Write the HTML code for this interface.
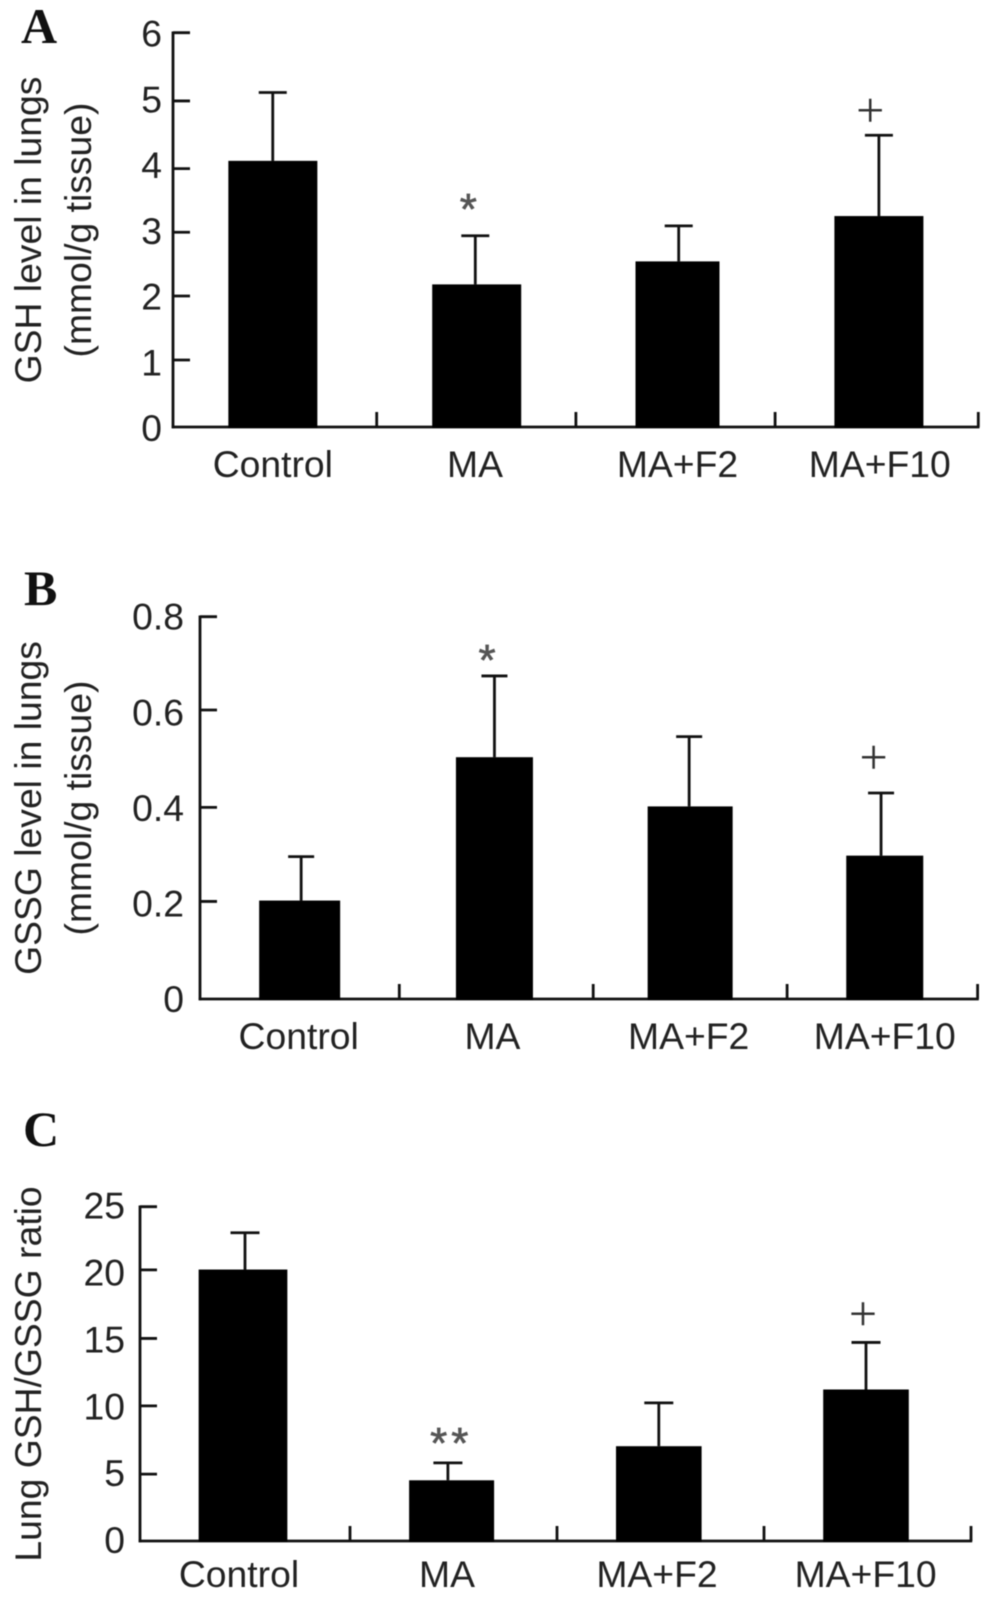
<!DOCTYPE html>
<html lang="en">
<head>
<meta charset="utf-8">
<title>Lung GSH and GSSG levels</title>
<style>
html,body{margin:0;padding:0;background:#fff;width:991px;height:1600px;overflow:hidden}
svg{display:block;filter:blur(0.45px)}
text{font-family:"Liberation Sans",sans-serif;font-size:37.3px;fill:#222}
.letter{font-family:"Liberation Serif",serif;font-size:50px;font-weight:bold;fill:#111}
</style>
</head>
<body>
<svg id="figure" xmlns="http://www.w3.org/2000/svg" width="991" height="1600" viewBox="0 0 991 1600">
  <rect x="0" y="0" width="991" height="1600" fill="#fff"/>
  <text class="letter" x="21" y="43">A</text>
  <text class="letter" x="24" y="605">B</text>
  <text class="letter" x="23" y="1146">C</text>
  <text text-anchor="middle" transform="translate(41 230) rotate(-90)">GSH level in lungs</text>
  <text text-anchor="middle" transform="translate(91 230) rotate(-90)">(mmol/g tissue)</text>
  <text text-anchor="middle" transform="translate(41 808) rotate(-90)">GSSG level in lungs</text>
  <text text-anchor="middle" transform="translate(91 808) rotate(-90)">(mmol/g tissue)</text>
  <text text-anchor="middle" transform="translate(41 1374) rotate(-90)">Lung GSH/GSSG ratio</text>
</svg>
<script>
// Chart data
const categories = ["Control", "MA", "MA+F2", "MA+F10"];

const gshMeans = [4.05, 2.17, 2.52, 3.21];
const gshErrors = [1.04, 0.74, 0.54, 1.23];
const gshMarks = ["", "*", "", "+"];
const gshTicks = [0, 1, 2, 3, 4, 5, 6];
const gshTickLabels = ["0", "1", "2", "3", "4", "5", "6"];

const gssgMeans = [0.206, 0.506, 0.403, 0.300];
const gssgErrors = [0.092, 0.170, 0.146, 0.131];
const gssgMarks = ["", "*", "", "+"];
const gssgTicks = [0, 0.2, 0.4, 0.6, 0.8];
const gssgTickLabels = ["0", "0.2", "0.4", "0.6", "0.8"];

const ratioMeans = [20.3, 4.54, 7.09, 11.33];
const ratioErrors = [2.75, 1.30, 3.24, 3.52];
const ratioMarks = ["", "**", "", "+"];
const ratioTicks = [0, 5, 10, 15, 20, 25];
const ratioTickLabels = ["0", "5", "10", "15", "20", "25"];

// Panel geometry (separate from the data)
const panelA = {id: "a", left: 173, right: 978.3, base: 427, top: 32.7, max: 6, first: 203.7, step: 199.2,
  barW: [89, 89, 84, 89], labelY: 477, labelRight: 162, tickDy: 14, starGap: 35, plusGap: 24, capW: 28,
  starDx: -5, plusDx: -8.7,
  shift: [-2, 0.4, 2, 2.2], errShift: [-0.1, -1.4, 1.2, 0], labelShift: [0, -1.7, 0, 0.9],
  tickNudge: [0, -1.3, 0.4, 2.4, 4.5, 2.5, 0],
  means: gshMeans, errors: gshErrors, marks: gshMarks, ticks: gshTicks, tickLabels: gshTickLabels};
const panelB = {id: "b", left: 200, right: 977.6, base: 999, top: 616.7, max: 0.8, first: 199.3, step: 193.9,
  barW: [81, 77, 85, 77], labelY: 1049, labelRight: 184, tickDy: 13, starGap: 24, plusGap: 35, capW: 26,
  starDx: -5.4, plusDx: -7.4,
  shift: [0, -1.8, 0, 2.4], errShift: [1.5, 0, -1, -3.7], labelShift: [-1, -2, -1.5, 0],
  tickNudge: [0, -2, -0.5, -2.3, 0],
  means: gssgMeans, errors: gssgErrors, marks: gssgMarks, ticks: gssgTicks, tickLabels: gssgTickLabels};
const panelC = {id: "c", left: 140, right: 971, base: 1541, top: 1206.7, max: 25, first: 210, step: 207,
  barW: [88.7, 85, 85.6, 85.6], labelY: 1587, labelRight: 125, tickDy: 12, starGap: 28, plusGap: 28, capW: 29,
  starDx: 3.4, plusDx: -3,
  shift: [-2, -1.9, -1.7, -1.5], errShift: [2, -3.7, 0, 0], labelShift: [-4, -4.6, -1.8, -0.4],
  tickNudge: [0, 0, -1.4, -2, -3.7, 0],
  means: ratioMeans, errors: ratioErrors, marks: ratioMarks, ticks: ratioTicks, tickLabels: ratioTickLabels};

const NS = "http://www.w3.org/2000/svg";
const root = document.getElementById("figure");

function make(tag, attrs, parent) {
  const el = document.createElementNS(NS, tag);
  for (const k in attrs) el.setAttribute(k, attrs[k]);
  parent.appendChild(el);
  return el;
}

function drawPanel(p) {
  const yScale = v => p.base - (v / p.max) * (p.base - p.top);
  const xEdge = i => i === 0 ? p.left : (i === categories.length ? p.right : p.left + p.first + (i - 1) * p.step);
  const xCenter = i => (xEdge(i) + xEdge(i + 1)) / 2 + p.shift[i];

  const g = make("g", {}, root);
  
  

  const line = {stroke: "#111", "stroke-width": 2.8, fill: "none"};

  // y axis
  const yAxis = make("line", Object.assign({x1: p.left, x2: p.left, y1: yScale(p.max) - 1.2, y2: p.base + 1.2}, line), g);
  
  

  p.ticks.forEach((t, i) => {
    const y = yScale(t);
    if (t !== 0) {
      const ty = y + p.tickNudge[i];
      const tick = make("line", Object.assign({x1: p.left, x2: p.left + 17, y1: ty, y2: ty}, line), g);
      
      
    }
    const lab = make("text", {x: p.labelRight, y: y + p.tickDy, "text-anchor": "end"}, g);
    lab.textContent = p.tickLabels[i];
    
    
  });

  // x axis
  const xAxis = make("line", Object.assign({x1: p.left - 1.2, x2: p.right + 1.2, y1: p.base, y2: p.base}, line), g);
  
  

  for (let i = 1; i <= categories.length; i++) {
    const tick = make("line", Object.assign({x1: xEdge(i), x2: xEdge(i), y1: p.base - 15, y2: p.base}, line), g);
    
    
  }

  categories.forEach((c, i) => {
    const cx = xCenter(i);
    const ex = cx + p.errShift[i];
    const w = p.barW[i];
    const topY = yScale(p.means[i]);
    const errY = yScale(p.means[i] + p.errors[i]);

    const stem = make("line", Object.assign({x1: ex, x2: ex, y1: errY, y2: topY}, line), g);
    
    

    const cap = make("line", Object.assign({x1: ex - p.capW / 2, x2: ex + p.capW / 2, y1: errY, y2: errY}, line), g);
    
    

    const bar = make("rect", {x: cx - w / 2, y: topY, width: w, height: p.base - topY + 1, fill: "#000"}, g);
    
    

    const lab = make("text", {x: cx + p.labelShift[i], y: p.labelY, "text-anchor": "middle"}, g);
    lab.textContent = c;
    
    

    const mark = p.marks[i];
    if (mark === "+") {
      const plus = make("text", {x: ex + p.plusDx, y: errY - p.plusGap + 16, "text-anchor": "middle",
        style: 'font-family:"Liberation Serif",serif;font-size:50px;fill:#333'}, g);
      plus.textContent = mark;
      
      
    } else if (mark) {
      const star = make("text", {x: ex + p.starDx, y: errY - p.starGap + 23, "text-anchor": "middle",
        style: 'font-size:44px;letter-spacing:4px;fill:#555;stroke:#555;stroke-width:0.7'}, g);
      star.textContent = mark;
      
      
    }
  });
}

drawPanel(panelA);
drawPanel(panelB);
drawPanel(panelC);
</script>
</body>
</html>
